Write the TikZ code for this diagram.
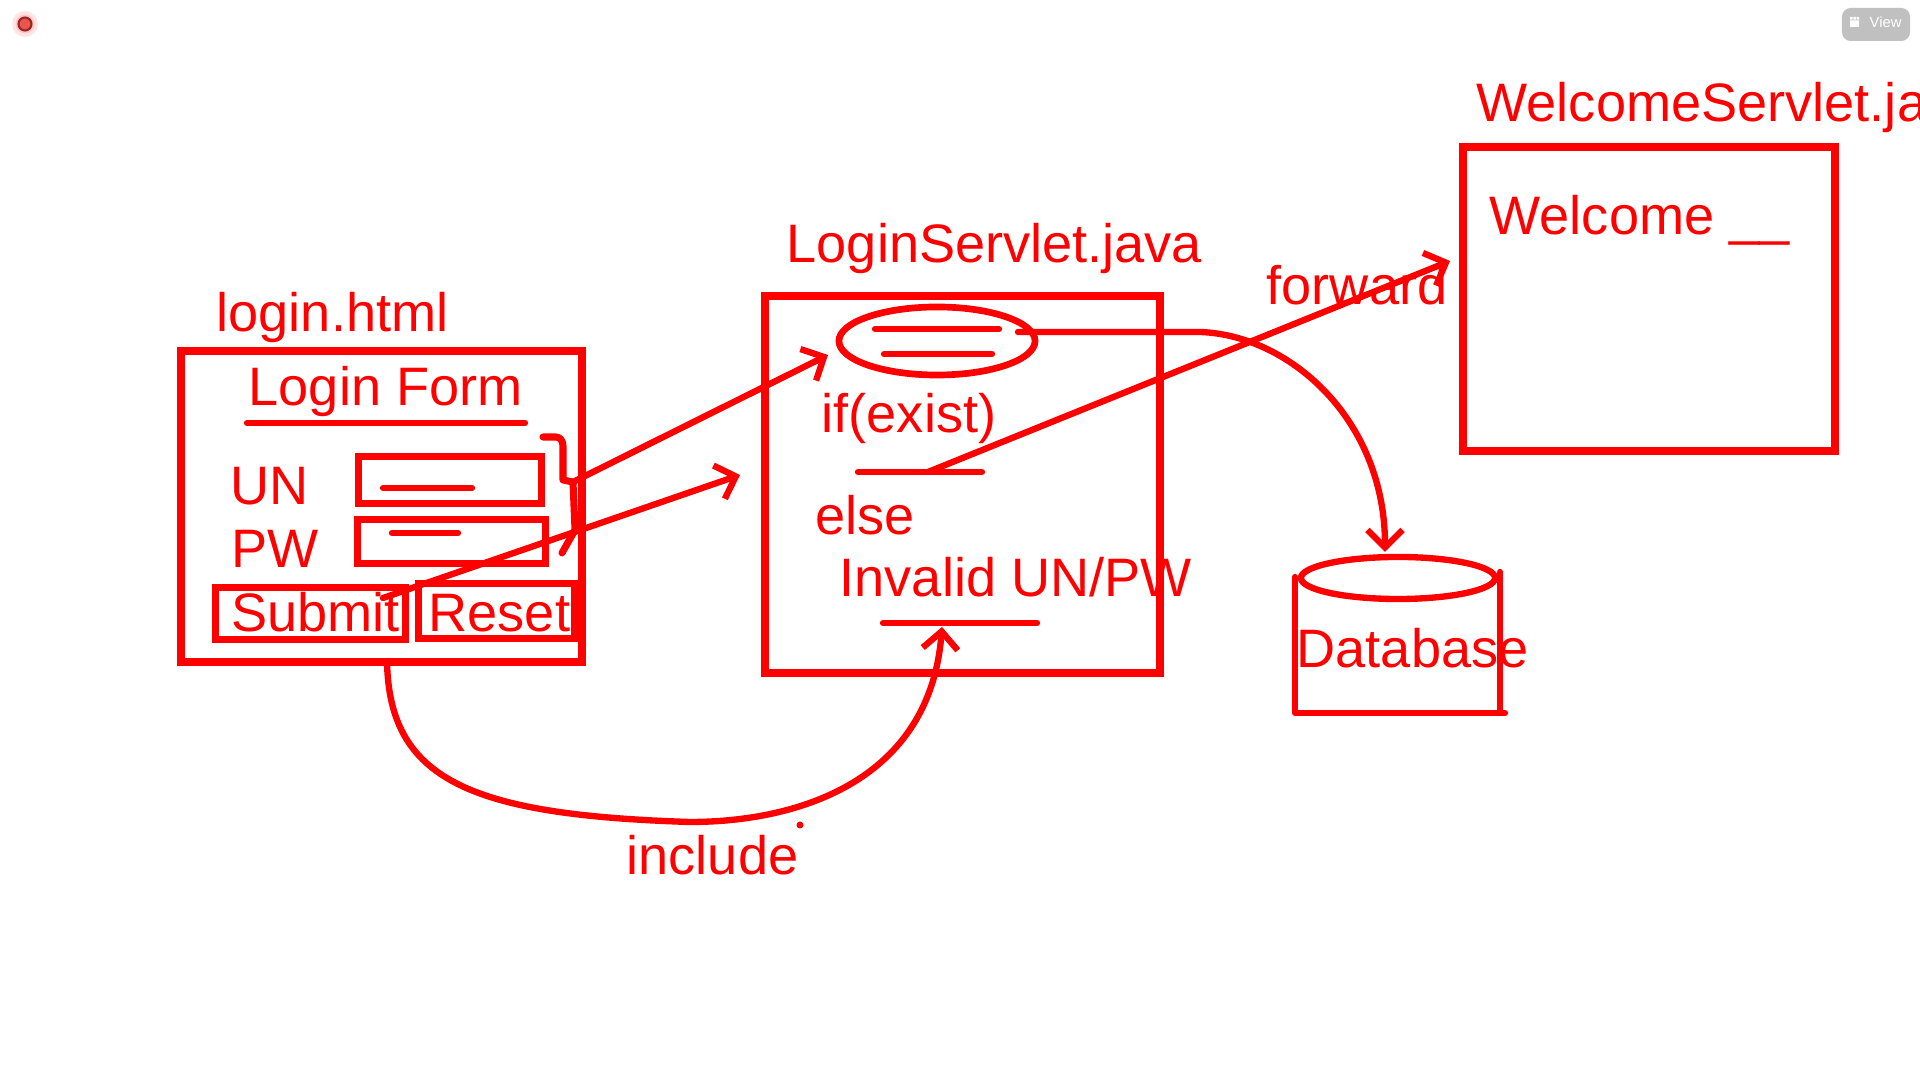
\documentclass[tikz,border=0pt]{standalone}
\usepackage{fontspec}
\setmainfont{Liberation Sans}
\usetikzlibrary{shapes.geometric,arrows.meta}
\definecolor{ink}{RGB}{255,0,0}
\definecolor{btngray}{RGB}{192,192,192}
\definecolor{dotred}{RGB}{235,85,75}
\definecolor{dotrim}{RGB}{150,40,40}
\newcommand{\handfont}{\fontsize{15.4pt}{18pt}\selectfont}

\begin{document}
\begin{tikzpicture}
    [
        x=0.01cm, y=-0.01cm,
        box/.style={rectangle, draw=ink, line width=2.1pt, inner sep=0pt},
        inkline/.style={draw=ink, line width=1.8pt, line cap=round, line join=round},
        arr/.style={-{Straight Barb[length=5pt, width=10pt]}},
        txt/.style={text=ink, font=\handfont, inner sep=0pt, anchor=base west}
    ]
    \useasboundingbox (0,0) rectangle (1920,1080);
    \fill[white] (0,0) rectangle (1920,1080);
    \clip (0,0) rectangle (1920,1080);
    % window dot and view button
    \fill[ink!10] (25,24) circle (13);
    \fill[ink!22] (25,24) circle (9.5);
    \filldraw[fill=dotred, draw=dotrim, line width=0.6pt] (25,24) circle (6.5);
    \node[fill=btngray, rounded corners=2.5pt, minimum width=0.68cm, minimum height=0.33cm, inner sep=0pt] (viewbtn) at (1876,24.5) {};
    \node[text=white, font=\fontsize{4.2pt}{5pt}\selectfont, inner sep=0pt, anchor=base west] (viewlbl) at (1869,28) {View};
    \fill[white] (1850,17) rectangle (1852.6,19.6) (1853.3,17) rectangle (1855.8,19.6)
        (1856.5,17) rectangle (1859,19.6) (1850,20.4) rectangle (1859,27);
    % login.html
    \node[txt] (loginlbl) at (216,332) {login.html};
    \node[box, minimum width=4.01cm, minimum height=3.11cm] (login) at (381.5,506.5) {};
    \node[txt] (formlbl) at (248,406) {Login Form};
    \draw[inkline] (247,423) -- (525,423);
    \node[txt] (unlbl) at (230,505) {UN};
    \node[txt] (pwlbl) at (231,568) {PW};
    \node[box, minimum width=1.83cm, minimum height=0.47cm] (unfield) at (450,480) {};
    \draw[inkline] (383,488) -- (472,488);
    \node[box, minimum width=1.88cm, minimum height=0.44cm] (pwfield) at (451.5,541.5) {};
    \draw[inkline] (392,533) -- (458,533);
    \node[box, minimum width=1.90cm, minimum height=0.52cm] (submit) at (310.5,613.5) {};
    \node[txt] (submitlbl) at (230.5,632) {Submit};
    \node[box, minimum width=1.56cm, minimum height=0.55cm] (reset) at (496.5,611) {};
    \node[txt] (resetlbl) at (428,632) {Reset};
    \draw[inkline, line width=2pt] (543,437) -- (556,437) to[out=0, in=90] (563,446) -- (563,480)
        -- (573,482) -- (575,530) -- (562,553);
    % LoginServlet.java
    \node[txt] (servletlbl) at (786,263) {LoginServlet.java};
    \node[box, minimum width=3.95cm, minimum height=3.77cm] (servlet) at (962.5,484.5) {};
    \node[ellipse, draw=ink, line width=1.9pt, minimum width=1.96cm, minimum height=0.68cm, inner sep=0pt] (query) at (937,341) {};
    \draw[inkline] (875,329) -- (999,329);
    \draw[inkline] (884,354) -- (992,354);
    \node[txt] (iflbl) at (821,433) {if(exist)};
    \draw[inkline] (858,472) -- (982,472);
    \node[txt] (elselbl) at (815,535) {else};
    \node[txt] (invalidlbl) at (839,597) {Invalid UN/PW};
    \draw[inkline] (883,623) -- (1037,623);
    % WelcomeServlet.java
    \node[txt] (welcomesrvlbl) at (1476,122) {WelcomeServlet.java};
    \node[box, line width=2.4pt, minimum width=3.72cm, minimum height=3.04cm] (welcome) at (1649,299) {};
    \node[txt] (welcomelbl) at (1489,235) {Welcome \_\_};
    % Database
    \node[ellipse, draw=ink, line width=1.8pt, minimum width=1.94cm, minimum height=0.42cm, inner sep=0pt] (db) at (1398,578) {};
    \draw[inkline] (1295,577) -- (1295,713) -- (1505,713);
    \draw[inkline] (1500,572) -- (1500,713);
    \node[txt] (dblbl) at (1296,668) {Database};
    % connectors
    \coordinate (brk) at (573,482);
    \coordinate (queryin) at (828,355);
    \draw[inkline, arr] (brk) -- (queryin);
    \coordinate (submitout) at (383,598);
    \coordinate (servletin) at (740,475);
    \draw[inkline, arr] (submitout) -- (servletin);
    \coordinate (ifout) at (928,472);
    \coordinate (welcomein) at (1450,261);
    \draw[inkline, arr] (ifout) -- (welcomein);
    \node[txt] (fwdlbl) at (1266,305) {forward};
    \coordinate (queryout) at (1018,332);
    \coordinate (dbin) at (1385,552);
    \draw[inkline, arr] (queryout) -- (1200,332) .. controls (1290,335) and (1385,420) .. (dbin);
    \coordinate (loginout) at (387,661);
    \coordinate (invalidin) at (942,627);
    \draw[inkline, arr] (loginout) .. controls (389,780) and (470,815) .. (690,822)
        .. controls (800,822) and (930,780) .. (invalidin);
    \fill[ink] (800,825) circle (3.5);
    \node[txt] (incllbl) at (626,875) {include};
\end{tikzpicture}
\end{document}
